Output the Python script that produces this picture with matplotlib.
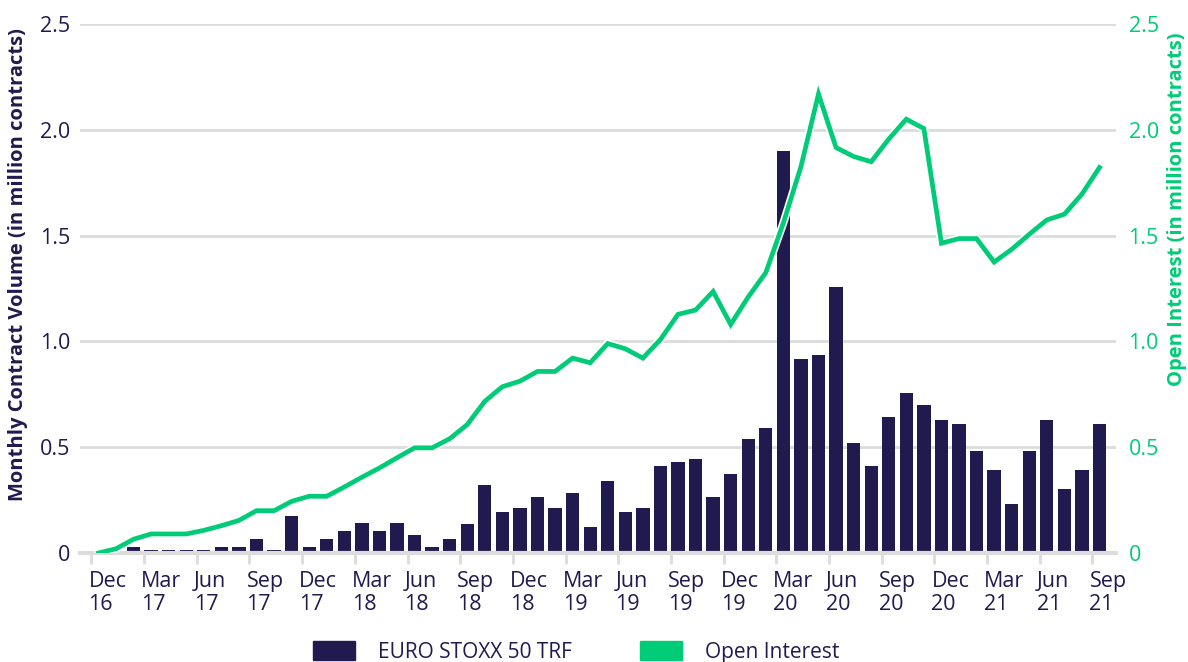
import numpy as np
import matplotlib
matplotlib.use("Agg")
import matplotlib.pyplot as plt
import matplotlib.patheffects as pe
from matplotlib.patches import Patch
from matplotlib.transforms import ScaledTranslation

plt.rcParams["font.family"] = ["Open Sans", "DejaVu Sans"]

NAVY = "#211A4F"
GREEN = "#00CC77"
GRID = "#DCDCDC"

# monthly data, Dec 16 .. Sep 21
volume = [0.01, 0.005, 0.03, 0.015, 0.015, 0.015, 0.015, 0.03, 0.03, 0.068, 0.015, 0.175,
          0.03, 0.068, 0.103, 0.14, 0.103, 0.14, 0.084, 0.03, 0.068, 0.139, 0.32, 0.194,
          0.212, 0.265, 0.212, 0.284, 0.122, 0.338, 0.194, 0.212, 0.41, 0.428, 0.445, 0.265,
          0.374, 0.537, 0.592, 1.90, 0.918, 0.934, 1.259, 0.519, 0.41, 0.645, 0.754, 0.70,
          0.628, 0.609, 0.484, 0.393, 0.23, 0.484, 0.628, 0.303, 0.393, 0.609]
open_interest = [0.0, 0.02, 0.065, 0.09, 0.09, 0.09, 0.107, 0.129, 0.154, 0.2, 0.2, 0.244,
                 0.268, 0.268, 0.312, 0.358, 0.402, 0.45, 0.497, 0.497, 0.54, 0.607, 0.717, 0.786,
                 0.812, 0.858, 0.858, 0.921, 0.899, 0.99, 0.965, 0.921, 1.009, 1.128, 1.148, 1.236,
                 1.08, 1.21, 1.325, 1.56, 1.826, 2.169, 1.916, 1.874, 1.849, 1.956, 2.05, 2.006,
                 1.464, 1.486, 1.486, 1.375, 1.435, 1.506, 1.574, 1.601, 1.696, 1.822]
tick_labels = ["Dec\n16", "Mar\n17", "Jun\n17", "Sep\n17", "Dec\n17", "Mar\n18", "Jun\n18",
               "Sep\n18", "Dec\n18", "Mar\n19", "Jun\n19", "Sep\n19", "Dec\n19", "Mar\n20",
               "Jun\n20", "Sep\n20", "Dec\n20", "Mar\n21", "Jun\n21", "Sep\n21"]
yticks = [0, 0.5, 1.0, 1.5, 2.0, 2.5]
ytick_labels = ["0", "0.5", "1.0", "1.5", "2.0", "2.5"]

x = np.arange(len(volume))

fig = plt.figure(figsize=(11.88, 6.62), dpi=100)
ax = fig.add_axes([80 / 1188, 1 - 553 / 662, 1036 / 1188, 529 / 662])
ax2 = ax.twinx()

ax.bar(x, volume, width=0.76, color=NAVY, zorder=2)
ax2.plot(x, open_interest, color=GREEN, lw=3.4, solid_joinstyle="miter", zorder=3,
         path_effects=[pe.Stroke(linewidth=5.8, foreground="white"), pe.Normal()])

for a in (ax, ax2):
    a.set_ylim(0, 2.5)
    a.set_yticks(yticks)
    a.set_yticklabels(ytick_labels)
    for s in a.spines.values():
        s.set_visible(False)
ax.set_xlim(-1.05, 57.94)
ax.yaxis.grid(True, color=GRID, lw=2)
ax.set_axisbelow(True)
ax.spines["bottom"].set_visible(True)
ax.spines["bottom"].set_color(GRID)
ax.spines["bottom"].set_linewidth(3)

ax.tick_params(axis="y", length=0, labelsize=15.5, labelcolor=NAVY, pad=7)
ax2.tick_params(axis="y", length=0, labelsize=15.5, labelcolor=GREEN, pad=9)
ax.set_xticks(np.arange(0, len(volume), 3) - 0.4)
ax.set_xticklabels(tick_labels, ha="left", fontsize=15.5, color=NAVY, linespacing=1.1)
ax.tick_params(axis="x", length=8, width=2, color=GRID, pad=5)
off = ScaledTranslation(-3 / 100, 0, fig.dpi_scale_trans)
for lbl in ax.get_xticklabels():
    lbl.set_transform(lbl.get_transform() + off)

ax.set_ylabel("Monthly Contract Volume (in million contracts)", fontsize=14.5,
              fontweight="bold", color=NAVY)
ax.yaxis.set_label_coords(-0.0505, 0.545)
ax2.set_ylabel("Open Interest (in million contracts)", fontsize=14.5,
               fontweight="bold", color=GREEN)
ax2.yaxis.set_label_coords(1.0495, 0.65)

handles = [Patch(color=NAVY, label="EURO STOXX 50 TRF"), Patch(color=GREEN, label="Open Interest")]
fig.legend(handles=handles, loc="upper left", bbox_to_anchor=(303 / 1188, 1 - 631 / 662), ncol=2,
           frameon=False, fontsize=15, borderpad=0, handlelength=2.0, handleheight=1.0,
           handletextpad=1.1, columnspacing=3.27, labelcolor=NAVY)

fig.savefig("out.png", dpi=100)
